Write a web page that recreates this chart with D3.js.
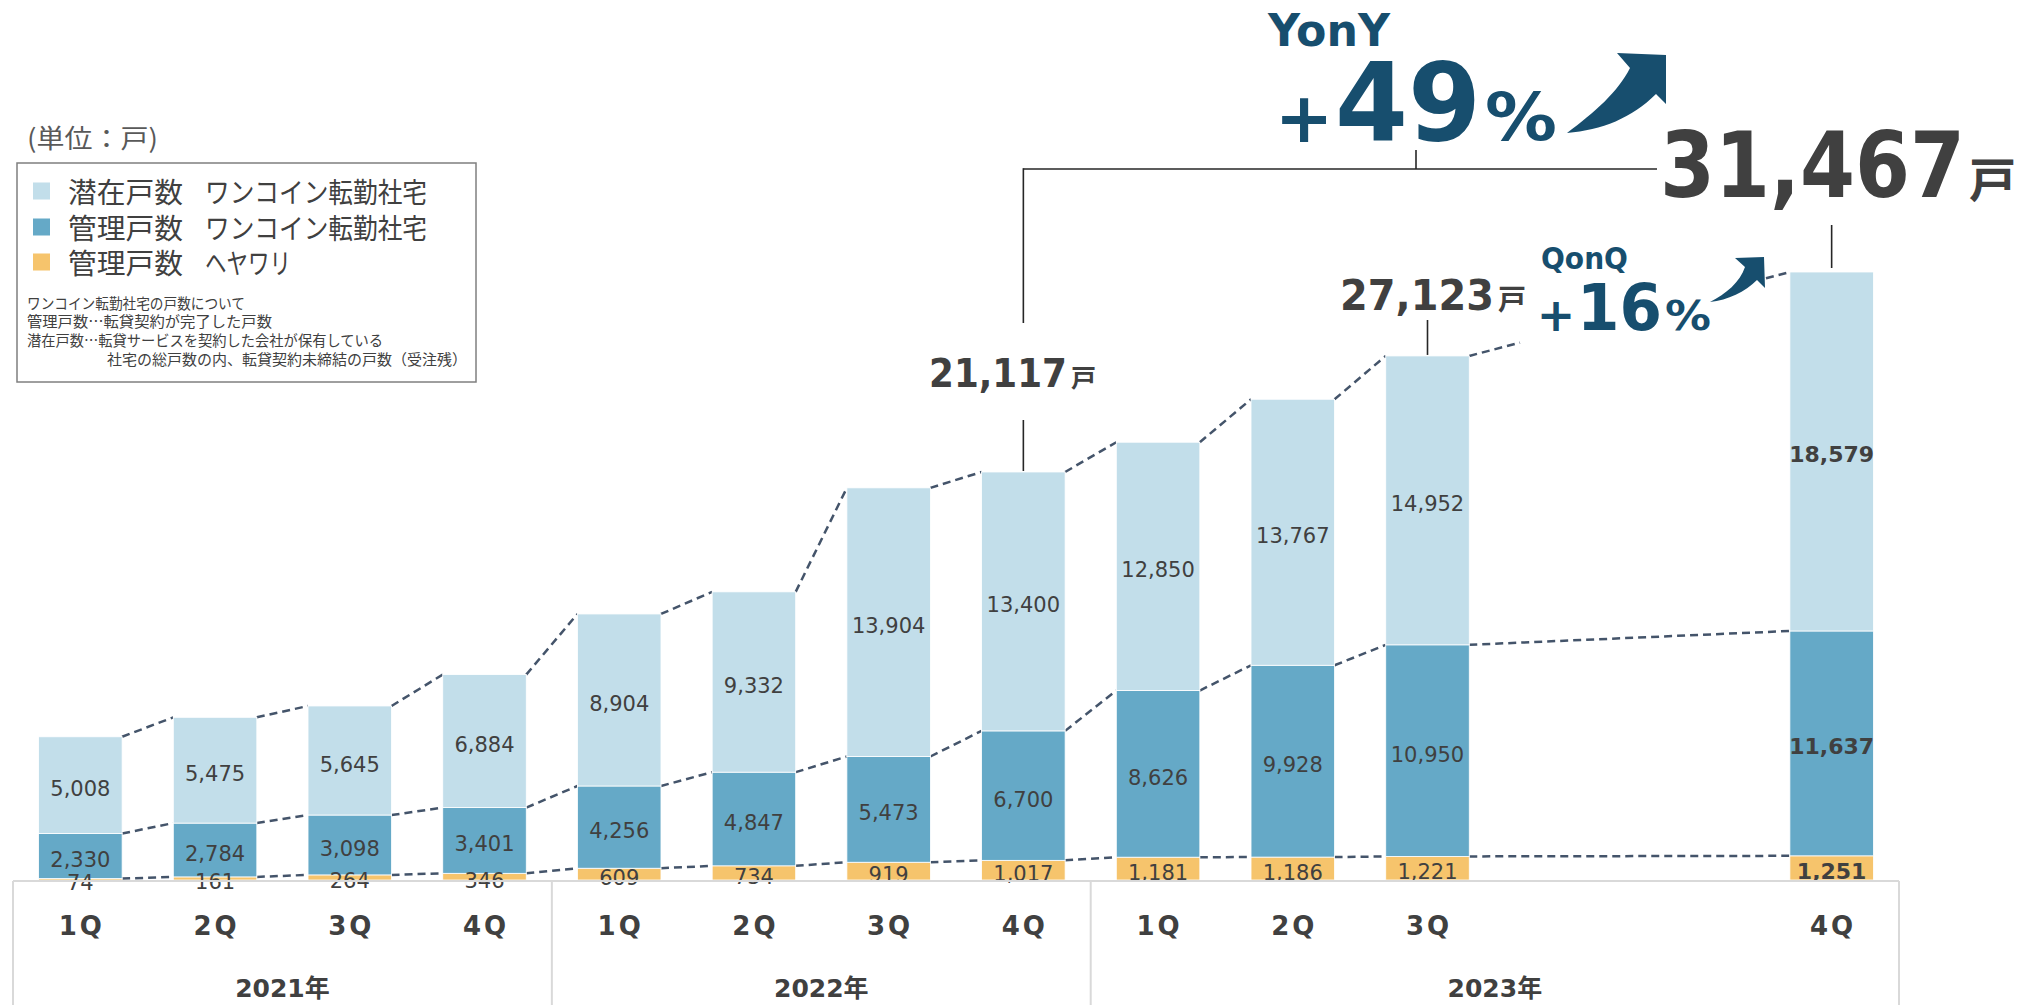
<!DOCTYPE html>
<html><head><meta charset="utf-8">
<script src="https://cdn.jsdelivr.net/npm/d3@7"></script>
<style>body{margin:0;background:#fff;} svg{display:block;}</style>
</head><body>
<svg id="chart" width="2018" height="1005"></svg>
<script>
// ---------- data ----------
const quarters = ["1Q","2Q","3Q","4Q","1Q","2Q","3Q","4Q","1Q","2Q","3Q","4Q"];
const quarterYears = ["2021年","2021年","2021年","2021年","2022年","2022年","2022年","2022年","2023年","2023年","2023年","2023年"];
const yearLabels = ["2021年","2022年","2023年"];
const heyawari = [74,161,264,346,609,734,919,1017,1181,1186,1221,1251];      // 管理戸数 ヘヤワリ
const kanri    = [2330,2784,3098,3401,4256,4847,5473,6700,8626,9928,10950,11637]; // 管理戸数 ワンコイン
const senzai   = [5008,5475,5645,6884,8904,9332,13904,13400,12850,13767,14952,18579]; // 潜在戸数 ワンコイン
const seriesNames = ["潜在戸数","管理戸数","管理戸数"];
const seriesSub = ["ワンコイン転勤社宅","ワンコイン転勤社宅","ヘヤワリ"];
const notes = ["ワンコイン転勤社宅の戸数について","管理戸数…転貸契約が完了した戸数","潜在戸数…転貸サービスを契約した会社が保有している","社宅の総戸数の内、転貸契約未締結の戸数（受注残）"];
const yonyText = ["YonY","+","49","%"];
const qonqText = ["QonQ","+","16","%"];

// ---------- setup ----------
const svg = d3.select("#chart");
const C_LIGHT = "#C2DEEA", C_MID = "#65A9C7", C_YEL = "#F6C46C";
const C_TEXT = "#404040", C_NAVY = "#174E6E", C_DASH = "#44546A";
const NUMF = "'DejaVu Sans', Verdana, sans-serif";
const JPF = "'Noto Sans CJK JP', 'Noto Sans', sans-serif";

const keys = quarters.map((q,i)=>quarterYears[i]+q);
const domain = [...keys.slice(0,11), "gapA", "gapB", keys[11]];
const x = d3.scaleBand().domain(domain).range([13, 1899]).paddingInner(0.38).paddingOuter(0.19);
const bw = x.bandwidth();
const totals = keys.map((k,i)=>heyawari[i]+kanri[i]+senzai[i]);
const y = d3.scaleLinear().domain([0, 31467]).range([880, 272]);

const rows = keys.map((k,i)=>{
  const l0 = heyawari[i], l1 = l0 + kanri[i], l2 = l1 + senzai[i];
  return {k, i, segs:[
    {v:heyawari[i], y0:0, y1:l0, c:C_YEL},
    {v:kanri[i], y0:l0, y1:l1, c:C_MID},
    {v:senzai[i], y0:l1, y1:l2, c:C_LIGHT}
  ], levels:[l0,l1,l2]};
});

// text squeezed horizontally to a given width (keeps real bounding box)
function fitText(g, str, x0, base, width, attrs){
  const t = g.append("text").attr("x",0).attr("y",0).text(str);
  Object.entries(attrs).forEach(([k,v])=>t.attr(k,v));
  const w = t.node().getComputedTextLength();
  t.attr("transform", `translate(${x0},${base}) scale(${width/w},1)`);
  return t;
}

// ---------- dashed connectors ----------
const gDash = svg.append("g");
for (let i=0;i<rows.length-1;i++){
  for (let lv=0; lv<3; lv++){
    const x1 = x(rows[i].k)+bw, y1 = y(rows[i].levels[lv]);
    const x2 = x(rows[i+1].k), y2 = y(rows[i+1].levels[lv]);
    const segs = (i===10 && lv===2) ? [[0,(1520-x1)/(x2-x1)],[(1766-x1)/(x2-x1),1]] : [[0,1]];
    segs.forEach(([a,b])=>{
      gDash.append("line")
        .attr("x1", x1+(x2-x1)*a).attr("y1", y1+(y2-y1)*a)
        .attr("x2", x1+(x2-x1)*b).attr("y2", y1+(y2-y1)*b)
        .attr("stroke", C_DASH).attr("stroke-width", 2.5).attr("stroke-dasharray","8,5");
    });
  }
}

// ---------- bars ----------
const gBars = svg.append("g");
rows.forEach(r=>{
  r.segs.forEach(s=>{
    gBars.append("rect").attr("x", x(r.k)).attr("width", bw)
      .attr("y", y(s.y1)).attr("height", y(s.y0)-y(s.y1))
      .attr("fill", s.c).attr("stroke","#fff").attr("stroke-width",0.8);
  });
});
rows.forEach(r=>{
  const last = r.i===rows.length-1;
  r.segs.forEach(s=>{
    gBars.append("text").attr("x", x(r.k)+bw/2).attr("y", (y(s.y0)+y(s.y1))/2 + 11)
      .attr("text-anchor","middle").attr("font-family", NUMF)
      .attr("font-size", last?22:21).attr("font-weight", last?"bold":"normal")
      .attr("fill", C_TEXT).text(d3.format(",")(s.v));
  });
});

// ---------- category axis box ----------
const gAx = svg.append("g");
const step = x.step(), half = step*0.19;
const groupBounds = yearLabels.map(yl=>{
  const idx = keys.map((k,i)=>i).filter(i=>quarterYears[i]===yl);
  return {yl, left: x(keys[idx[0]]) - half};
});
groupBounds.forEach((g,j)=>{ g.right = j<groupBounds.length-1 ? groupBounds[j+1].left : x.range()[1]; });
gAx.append("line").attr("x1", x.range()[0]).attr("x2", x.range()[1]).attr("y1",881).attr("y2",881)
  .attr("stroke","#D9D9D9").attr("stroke-width",2);
const vx = [...groupBounds.map(g=>g.left), x.range()[1]];
vx.forEach(v=>gAx.append("line").attr("x1",v).attr("x2",v).attr("y1",881).attr("y2",1005)
  .attr("stroke","#D9D9D9").attr("stroke-width",2));
keys.forEach((k,i)=>{
  gAx.append("text").attr("x", x(k)+bw/2+1.5).attr("y", 935).attr("text-anchor","middle")
    .attr("font-family", NUMF).attr("font-weight","bold").attr("font-size",26)
    .attr("letter-spacing",3).attr("fill", C_TEXT).text(quarters[i]);
});
groupBounds.forEach(g=>{
  gAx.append("text").attr("x",(g.left+g.right)/2).attr("y",997).attr("text-anchor","middle")
    .attr("font-family", NUMF+", "+JPF).attr("font-weight","bold").attr("font-size",25)
    .attr("fill", C_TEXT).text(g.yl);
});

// ---------- legend ----------
const gL = svg.append("g");
gL.append("text").attr("x",27).attr("y",136).attr("dominant-baseline","central")
  .attr("font-family",JPF).attr("font-size",26).attr("fill","#595959")
  .attr("textLength",131).attr("lengthAdjust","spacingAndGlyphs").text("(単位：戸)");
gL.append("rect").attr("x",17).attr("y",163).attr("width",459).attr("height",219)
  .attr("fill","none").attr("stroke","#7F7F7F").attr("stroke-width",1.5);
const legColors = [C_LIGHT, C_MID, C_YEL];
const legY = [191,227,262];
const subLen = [222,222,86];
seriesNames.forEach((n,i)=>{
  gL.append("rect").attr("x",33).attr("y",legY[i]-8.5).attr("width",17).attr("height",17).attr("fill",legColors[i]);
  gL.append("text").attr("x",68).attr("y",legY[i]).attr("dominant-baseline","central")
    .attr("font-family",JPF).attr("font-size",28).attr("fill",C_TEXT)
    .attr("textLength",115).attr("lengthAdjust","spacingAndGlyphs").text(n);
  gL.append("text").attr("x",205).attr("y",legY[i]).attr("dominant-baseline","central")
    .attr("font-family",JPF).attr("font-size",28).attr("fill",C_TEXT)
    .attr("textLength",subLen[i]).attr("lengthAdjust","spacingAndGlyphs").text(seriesSub[i]);
});
const noteY = [302,320,339,358], noteX=[27,27,27,107], noteLen=[218,245,356,360];
notes.forEach((t,i)=>{
  gL.append("text").attr("x",noteX[i]).attr("y",noteY[i]).attr("dominant-baseline","central")
    .attr("font-family",JPF).attr("font-size",15).attr("fill",C_TEXT)
    .attr("textLength",noteLen[i]).attr("lengthAdjust","spacingAndGlyphs").text(t);
});

// ---------- annotations ----------
const gA = svg.append("g");
const cx = k => x(k)+bw/2;
const k22 = keys[7], k23q3 = keys[10], k23 = keys[11];
const line = (x1,y1,x2,y2,w=1.6)=>gA.append("line").attr("x1",x1).attr("y1",y1).attr("x2",x2).attr("y2",y2)
  .attr("stroke","#262626").attr("stroke-width",w);
line(cx(k22),169,1657,169);
line(cx(k22),168.2,cx(k22),323);
line(1416,150,1416,169);
line(cx(k22),420,cx(k22),y(totals[7])-1);
line(cx(k23q3),320,cx(k23q3),y(totals[10])-1);
line(cx(k23),225,cx(k23),y(totals[11])-4);

const boldNum = (fs, col)=>({"font-family":NUMF, "font-weight":"bold", "font-size":fs, "fill":col});
function numLabel(val, xEnd, base, fs, len, kfs){
  fitText(gA, d3.format(",")(val), xEnd-len-1, base, len, boldNum(fs, C_TEXT));
  gA.append("text").attr("x", xEnd+3).attr("y",base).attr("font-family",JPF).attr("font-weight","bold")
    .attr("font-size",kfs).attr("fill",C_TEXT).text("戸");
}
numLabel(totals[7], 1068, 387, 39, 138, 25);
numLabel(totals[10], 1495, 310, 43, 154, 28);
numLabel(totals[11], 1966, 197, 90, 305, 47);

// YonY
fitText(gA, yonyText[0], 1268, 46, 122, boldNum(45, C_NAVY));
gA.append("text").attr("x",1304).attr("y",142).attr("text-anchor","middle").attr("font-family",NUMF).attr("font-weight","bold")
  .attr("font-size",70).attr("fill",C_NAVY).text(yonyText[1]);
fitText(gA, yonyText[2], 1335, 140, 146, boldNum(108, C_NAVY));
fitText(gA, yonyText[3], 1485, 140, 72, boldNum(66, C_NAVY));
gA.append("path").attr("fill",C_NAVY)
  .attr("d","M1567,133 C1595,112 1618,92 1630,68 L1617,53 L1666,55 L1666,104 L1656,94 C1632,118 1602,130 1567,133 Z");

// QonQ
fitText(gA, qonqText[0], 1541, 269, 87, boldNum(30, C_NAVY));
gA.append("text").attr("x",1556).attr("y",331).attr("text-anchor","middle").attr("font-family",NUMF).attr("font-weight","bold")
  .attr("font-size",46).attr("fill",C_NAVY).text(qonqText[1]);
fitText(gA, qonqText[2], 1577, 330, 85, boldNum(64, C_NAVY));
fitText(gA, qonqText[3], 1665, 330, 46, boldNum(41, C_NAVY));
gA.append("path").attr("fill",C_NAVY)
  .attr("d","M1710,302 C1726,294 1740,282 1745,267 L1735,258 L1764,257 L1765,288 L1757,280 C1745,292 1728,300 1710,302 Z");
</script>
</body></html>
